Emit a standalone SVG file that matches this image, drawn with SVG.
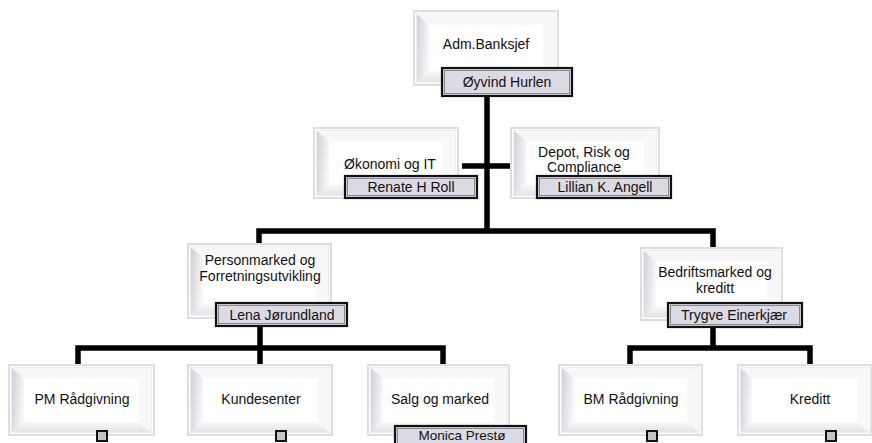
<svg xmlns="http://www.w3.org/2000/svg" width="872" height="443" viewBox="0 0 872 443">
<style>
  .t{font-family:"Liberation Sans",Arial,sans-serif;font-size:14px;fill:#111;text-anchor:middle}
  .lab{fill:#dcdae5;stroke:#111;stroke-width:2.2}
  .labin{fill:none;stroke:#8a8a8a;stroke-width:1}
  .con{fill:none;stroke:#000;stroke-width:5.5;stroke-linejoin:miter;stroke-linecap:butt}
  .sq{fill:#c4c4c4;stroke:#111;stroke-width:2}
</style>
<defs>
  <linearGradient id="gl" x1="0" y1="0" x2="1" y2="0.3">
    <stop offset="0" stop-color="#d0d0d8"/>
    <stop offset="1" stop-color="#f6f6f8"/>
  </linearGradient>
  <linearGradient id="gb" x1="0" y1="1" x2="0" y2="0">
    <stop offset="0" stop-color="#e3e3e8"/>
    <stop offset="1" stop-color="#f8f8fa"/>
  </linearGradient>
  <symbol id="bev" viewBox="0 0 146 72" preserveAspectRatio="none">
    <rect x="1" y="1" width="144" height="70" fill="#fff" stroke="#dedede" stroke-width="2"/>
    <rect x="3.5" y="3.5" width="139" height="65" fill="none" stroke="#eeeeee" stroke-width="1"/>
    <polygon points="4,4 142,4 130,14 16,14" fill="#f7f7f9"/>
    <polygon points="142,4 142,68 130,58 130,14" fill="#f8f8fa"/>
    <polygon points="4,68 16,58 130,58 142,68" fill="url(#gb)"/>
    <polygon points="4,4 16,14 16,58 4,68" fill="url(#gl)"/>
  </symbol>
</defs>

<g id="connectors">
  <path class="con" d="M487,96 V231"/>
  <path class="con" d="M462,166 H510"/>
  <path class="con" d="M259,243 V231 H713 V247"/>
  <path class="con" d="M260,326 V348"/>
  <path class="con" d="M78,364 V348 H443 V364"/>
  <path class="con" d="M260,348 V364"/>
  <path class="con" d="M713,327 V348"/>
  <path class="con" d="M630,364 V348 H810 V364"/>
</g>

<g id="n-adm">
  <use href="#bev" x="413" y="10" width="146" height="76"/>
  <text class="t" x="486" y="49">Adm.Banksjef</text>
  <rect class="lab" x="442" y="68" width="130" height="28"/>
  <rect class="labin" x="444.5" y="70.5" width="125" height="23"/>
  <text class="t" x="507" y="87">Øyvind Hurlen</text>
</g>

<g id="n-okonomi">
  <use href="#bev" x="313" y="127" width="146" height="72"/>
  <text class="t" x="390" y="169">Økonomi og IT</text>
  <rect class="lab" x="345" y="176" width="132" height="22"/>
  <rect class="labin" x="347.5" y="178.5" width="127" height="17"/>
  <text class="t" x="411" y="192">Renate H Roll</text>
</g>

<g id="n-depot">
  <use href="#bev" x="510" y="127" width="150" height="72"/>
  <text class="t" x="584" y="157">Depot, Risk og</text>
  <text class="t" x="584" y="172">Compliance</text>
  <rect class="lab" x="537" y="176" width="134" height="22"/>
  <rect class="labin" x="539.5" y="178.5" width="129" height="17"/>
  <text class="t" x="605" y="192">Lillian K. Angell</text>
</g>

<g id="n-person">
  <use href="#bev" x="187" y="243" width="145" height="76"/>
  <text class="t" x="260" y="265">Personmarked og</text>
  <text class="t" x="260" y="281">Forretningsutvikling</text>
  <rect class="lab" x="216" y="303" width="131" height="23"/>
  <rect class="labin" x="218.5" y="305.5" width="126" height="18"/>
  <text class="t" x="282" y="320">Lena Jørundland</text>
</g>

<g id="n-bedrift">
  <use href="#bev" x="640" y="247" width="143" height="74"/>
  <text class="t" x="715" y="277">Bedriftsmarked og</text>
  <text class="t" x="715" y="293">kreditt</text>
  <rect class="lab" x="668" y="303" width="134" height="24"/>
  <rect class="labin" x="670.5" y="305.5" width="129" height="19"/>
  <text class="t" x="734" y="320">Trygve Einerkjær</text>
</g>

<g id="n-pm">
  <use href="#bev" x="8" y="364" width="147" height="72"/>
  <text class="t" x="82" y="404">PM Rådgivning</text>
  <rect class="sq" x="97" y="431" width="10" height="10"/>
</g>

<g id="n-kunde">
  <use href="#bev" x="187" y="364" width="146" height="72"/>
  <text class="t" x="261" y="404">Kundesenter</text>
  <rect class="sq" x="276" y="431" width="10" height="10"/>
</g>

<g id="n-salg">
  <use href="#bev" x="367" y="364" width="143" height="72"/>
  <text class="t" x="440" y="404">Salg og marked</text>
  <rect class="lab" x="395" y="426" width="131" height="22"/>
  <rect class="labin" x="397.5" y="428.5" width="126" height="17"/>
  <text class="t" x="462" y="440" style="font-size:13.5px">Monica Prestø</text>
</g>

<g id="n-bm">
  <use href="#bev" x="558" y="364" width="145" height="72"/>
  <text class="t" x="631" y="404">BM Rådgivning</text>
  <rect class="sq" x="647" y="431" width="10" height="10"/>
</g>

<g id="n-kreditt">
  <use href="#bev" x="737" y="364" width="135" height="72"/>
  <text class="t" x="810" y="404">Kreditt</text>
  <rect class="sq" x="826" y="431" width="10" height="10"/>
</g>
</svg>
